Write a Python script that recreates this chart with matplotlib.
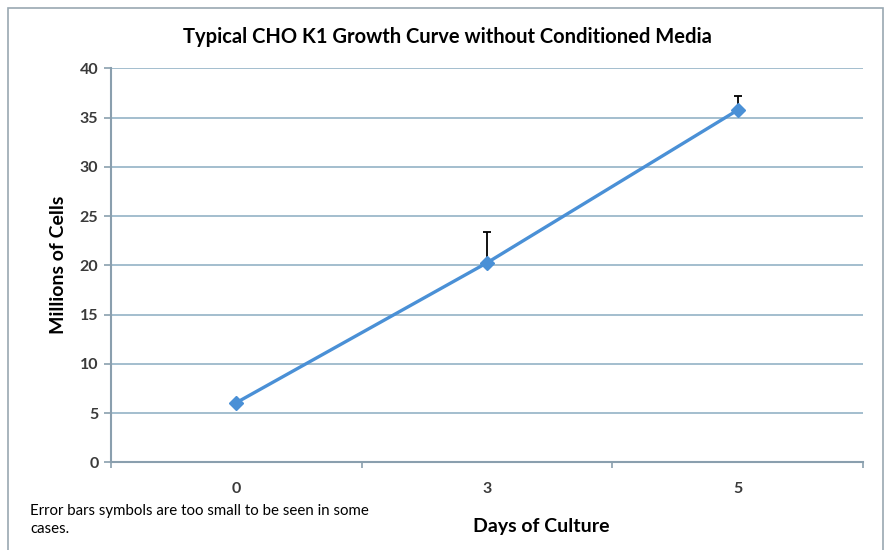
import matplotlib.pyplot as plt
from matplotlib.patches import Rectangle

plt.rcParams['font.family'] = ['Lato', 'DejaVu Sans']

days = ["0", "3", "5"]
cells = [6.05, 20.25, 35.75]
err_up = [0.0, 3.1, 1.45]

fig = plt.figure(figsize=(8.87, 5.5), dpi=100)
ax = fig.add_axes([0.1251, 0.1595, 0.8478, 0.7164])

xs = list(range(len(days)))
ax.plot(xs, cells, color='#4a90d6', lw=2.4, marker='D', markersize=7, zorder=3)
ax.errorbar(xs, cells, yerr=[[0] * len(days), err_up], fmt='none', ecolor='black',
            elinewidth=1.3, capsize=3, capthick=1.3, zorder=2)

ax.set_xlim(-0.5, 2.5)
ax.set_ylim(0, 40)
ax.set_yticks(range(0, 41, 5))
ax.set_xticks(xs)
ax.set_xticklabels(days)
ax.set_xticks([-0.5, 0.5, 1.5, 2.5], minor=True)
ax.tick_params(axis='x', which='major', length=0, pad=14, labelsize=11.5, labelcolor='#3a3a3a')
ax.tick_params(axis='x', which='minor', length=4, color='#8a9fae', width=1.2)
ax.tick_params(axis='y', length=5, color='#8a9fae', width=1.2, labelsize=11.5,
               labelcolor='#3a3a3a', pad=4)
for lab in ax.get_xticklabels() + ax.get_yticklabels():
    lab.set_fontweight('bold')
ax.grid(axis='y', color='#93b3c6', lw=1.2)
ax.set_axisbelow(True)
for s in ['top', 'right']:
    ax.spines[s].set_visible(False)
for s in ['left', 'bottom']:
    ax.spines[s].set_color('#8a9fae')
    ax.spines[s].set_linewidth(1.5)

ax.set_ylabel("Millions of Cells", fontsize=14, fontweight='bold', labelpad=9)

fig.text(0.505, 0.932, "Typical CHO K1 Growth Curve without Conditioned Media",
         ha='center', va='center', fontsize=14.5, fontweight='bold')
fig.text(0.61, 0.042, "Days of Culture", ha='center', va='center',
         fontsize=14, fontweight='bold')
fig.text(0.034, 0.055, "Error bars symbols are too small to be seen in some\ncases.",
         ha='left', va='center', fontsize=10.8, linespacing=1.35)

fig.patches.append(Rectangle((0.009, -0.01), 0.987, 0.996, transform=fig.transFigure,
                             fill=False, edgecolor='#9aa8b2', lw=1.2))

fig.savefig("out.png", dpi=100)
